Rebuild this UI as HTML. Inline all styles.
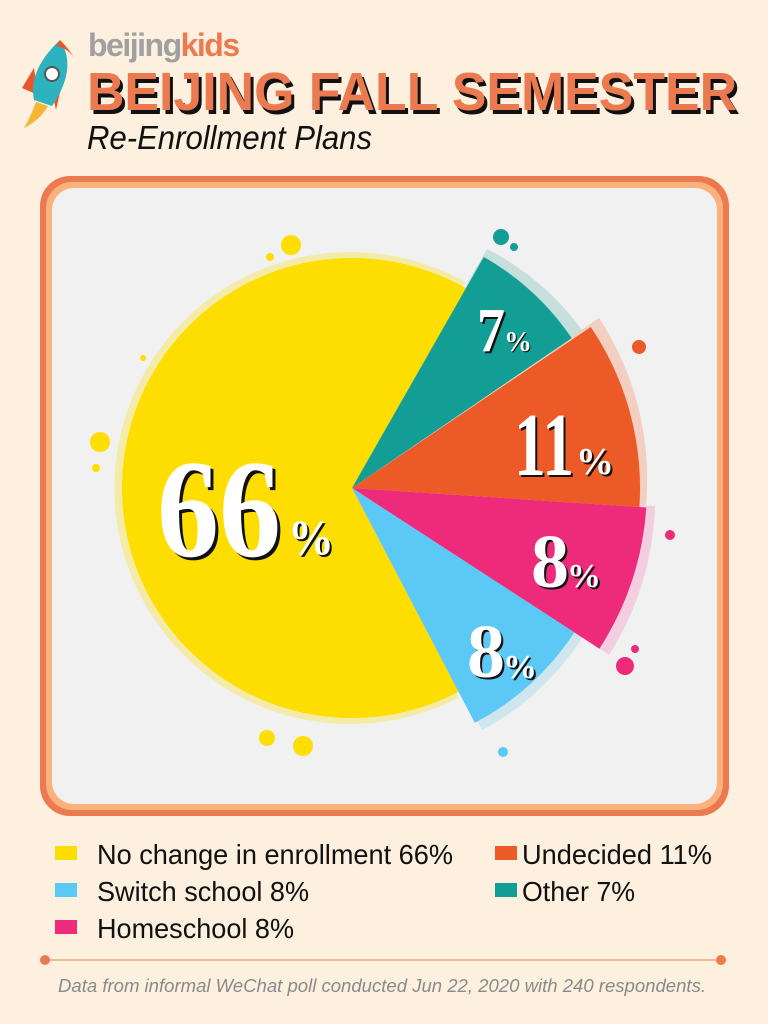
<!DOCTYPE html>
<html><head><meta charset="utf-8"><style>
html,body{margin:0;padding:0;background:#fdf0de;}
svg{display:block}
</style></head><body>
<svg width="768" height="1024" viewBox="0 0 768 1024" xmlns="http://www.w3.org/2000/svg">
<rect width="768" height="1024" fill="#fdf0de"/>
<g>
<path d="M22 88 L34 68 L38 95 Z" fill="#e9562a"/>
<path d="M52 92 L62 84 L56 110 Z" fill="#e9562a"/>
<path d="M36 102 Q30 118 24 128 Q40 120 48 106 Z" fill="#f8b533"/>
<path d="M34 100 Q28 70 60 40 Q78 68 52 106 Z" fill="#2db3bf"/>
<path d="M60 40 Q70 50 74 58 Q68 48 56 46 Z" fill="#e9562a"/>
<circle cx="52" cy="74" r="7" fill="#fff" stroke="#555" stroke-width="2"/>
</g>
<text x="88" y="56" font-family="Liberation Sans, sans-serif" font-weight="bold" font-size="32" fill="#a0a0a0" letter-spacing="-1.5">beijing<tspan fill="#ec7a50">kids</tspan></text>
<text x="90" y="114" font-family="Liberation Sans, sans-serif" font-weight="bold" font-size="54" fill="#111" textLength="650" lengthAdjust="spacingAndGlyphs">BEIJING FALL SEMESTER</text>
<text x="87" y="110" font-family="Liberation Sans, sans-serif" font-weight="bold" font-size="54" fill="#ec7a50" textLength="650" lengthAdjust="spacingAndGlyphs">BEIJING FALL SEMESTER</text>
<text x="87" y="149" font-family="Liberation Sans, sans-serif" font-style="italic" font-size="33" fill="#111" textLength="285" lengthAdjust="spacingAndGlyphs">Re-Enrollment Plans</text>
<rect x="40" y="176" width="689" height="640" rx="30" fill="#ec7a50"/>
<rect x="46" y="182" width="677" height="628" rx="26" fill="#f9b27c"/>
<rect x="52" y="188" width="665" height="616" rx="22" fill="#f1f1f1"/>
<circle cx="291" cy="245" r="10" fill="#fedd00"/><circle cx="270" cy="257" r="4" fill="#fedd00"/>
<circle cx="143" cy="358" r="3" fill="#fedd00"/><circle cx="100" cy="442" r="10" fill="#fedd00"/><circle cx="96" cy="468" r="4" fill="#fedd00"/>
<circle cx="267" cy="738" r="8" fill="#fedd00"/><circle cx="303" cy="746" r="10" fill="#fedd00"/>
<circle cx="501" cy="237" r="8" fill="#139e95"/><circle cx="514" cy="247" r="4" fill="#139e95"/>
<circle cx="639" cy="347" r="7" fill="#ec5a28"/>
<circle cx="670" cy="535" r="5" fill="#ee2a7b"/>
<circle cx="635" cy="649" r="4" fill="#ee2a7b"/><circle cx="625" cy="666" r="9" fill="#ee2a7b"/>
<circle cx="503" cy="752" r="5" fill="#5bc8f5"/>
<path d="M352 488 L458.6 697.8 A236 236 0 1 1 465.9 282.2 Z" fill="#f5eba8"/>
<path d="M356 478 L487 249 A272 272 0 0 1 582 330 Z" fill="#c5e0dc"/>
<path d="M358 482 L599 318 A294 294 0 0 1 646 505 Z" fill="#f3cfc2"/>
<path d="M362 490 L655 506 A296 296 0 0 1 609 655 Z" fill="#f3cde0"/>
<path d="M356 494 L584 635 A270 270 0 0 1 482 730 Z" fill="#cfe6ef"/>
<path d="M352 488 L458.6 691.8 A230 230 0 1 1 465.9 288.2 Z" fill="#fedd00"/>
<path d="M352 488 L483.8 256.9 A266 266 0 0 1 571.7 338.1 Z" fill="#139e95"/>
<path d="M352 488 L590.8 327 A288 288 0 0 1 639.4 507.1 Z" fill="#ec5a28"/>
<path d="M352 488 L646.3 507.5 A295 295 0 0 1 599.4 648.7 Z" fill="#ee2a7b"/>
<path d="M352 488 L574.3 632.3 A265 265 0 0 1 474.8 722.8 Z" fill="#5bc8f5"/>
<g font-family="Liberation Serif, serif" font-weight="bold">
<text x="160" y="559" font-size="140" fill="#111" textLength="124" lengthAdjust="spacingAndGlyphs">66</text>
<text x="157" y="556" font-size="140" fill="#fff" textLength="124" lengthAdjust="spacingAndGlyphs">66</text>
<text x="290" y="556" font-size="50" fill="#111" textLength="46" lengthAdjust="spacingAndGlyphs">%</text><text x="288" y="554" font-size="50" fill="#fff" textLength="46" lengthAdjust="spacingAndGlyphs">%</text>
<text x="479" y="353" font-size="62" fill="#111" textLength="28" lengthAdjust="spacingAndGlyphs">7</text><text x="477" y="351" font-size="62" fill="#fff" textLength="28" lengthAdjust="spacingAndGlyphs">7</text>
<text x="505" y="352" font-size="28" fill="#111">%</text><text x="504" y="351" font-size="28" fill="#fff">%</text>
<text x="516" y="477" font-size="90" fill="#111" textLength="60" lengthAdjust="spacingAndGlyphs">11</text>
<text x="514" y="475" font-size="90" fill="#fff" textLength="60" lengthAdjust="spacingAndGlyphs">11</text>
<text x="578" y="476" font-size="38" fill="#111">%</text><text x="576" y="474" font-size="38" fill="#fff">%</text>
<text x="533" y="589" font-size="76" fill="#111" textLength="38" lengthAdjust="spacingAndGlyphs">8</text><text x="531" y="587" font-size="76" fill="#fff" textLength="38" lengthAdjust="spacingAndGlyphs">8</text>
<text x="569" y="589" font-size="34" fill="#111">%</text><text x="567" y="587" font-size="34" fill="#fff">%</text>
<text x="469" y="679" font-size="76" fill="#111" textLength="38" lengthAdjust="spacingAndGlyphs">8</text><text x="467" y="677" font-size="76" fill="#fff" textLength="38" lengthAdjust="spacingAndGlyphs">8</text>
<text x="505" y="680" font-size="34" fill="#111">%</text><text x="503" y="678" font-size="34" fill="#fff">%</text>
</g>
<rect x="55" y="846" width="22" height="14" fill="#fedd00"/>
<rect x="55" y="883" width="22" height="14" fill="#5bc8f5"/>
<rect x="55" y="920" width="22" height="14" fill="#ee2a7b"/>
<rect x="495" y="846" width="22" height="14" fill="#ec5a28"/>
<rect x="495" y="883" width="22" height="14" fill="#139e95"/>
<g font-family="Liberation Sans, sans-serif" font-size="28" fill="#111">
<text x="97" y="864" textLength="356" lengthAdjust="spacingAndGlyphs">No change in enrollment 66%</text>
<text x="97" y="901" textLength="212" lengthAdjust="spacingAndGlyphs">Switch school 8%</text>
<text x="97" y="938" textLength="197" lengthAdjust="spacingAndGlyphs">Homeschool 8%</text>
<text x="522" y="864" textLength="190" lengthAdjust="spacingAndGlyphs">Undecided 11%</text>
<text x="522" y="901" textLength="113" lengthAdjust="spacingAndGlyphs">Other 7%</text>
</g>
<line x1="45" y1="960" x2="721" y2="960" stroke="#f3b89a" stroke-width="2"/>
<circle cx="45" cy="960" r="5" fill="#ec7a50"/><circle cx="721" cy="960" r="5" fill="#ec7a50"/>
<text x="58" y="992" font-family="Liberation Sans, sans-serif" font-style="italic" font-size="18" fill="#8a8a8a" textLength="648" lengthAdjust="spacingAndGlyphs">Data from informal WeChat poll conducted Jun 22, 2020 with 240 respondents.</text>
</svg>
</body></html>
